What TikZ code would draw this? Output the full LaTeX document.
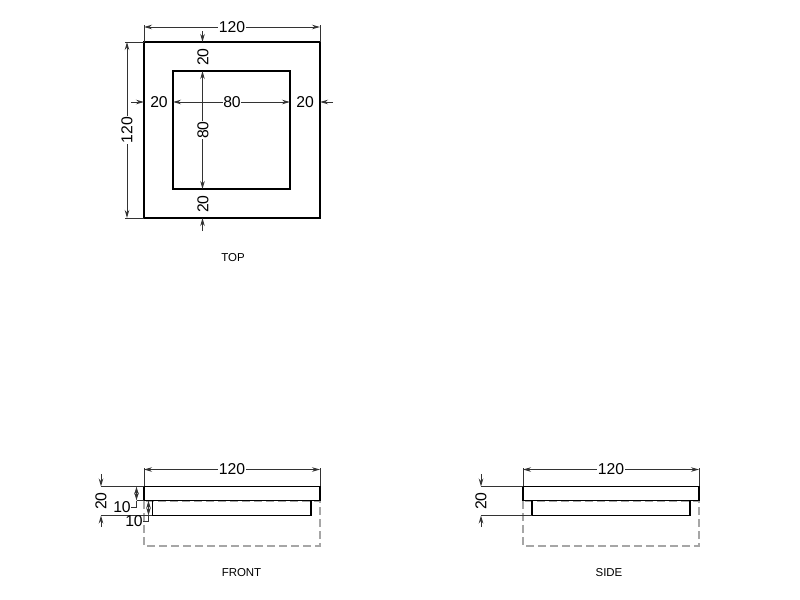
\documentclass[tikz,border=0pt]{standalone}
\usepackage{fontspec}
\setmainfont{Liberation Sans}
\usetikzlibrary{arrows.meta}
\tikzset{
  outline/.style={line width=1.3pt,black},
  hidden/.style={line width=0.8pt,black!35,dash pattern=on 6pt off 3pt},
  dimline/.style={line width=0.7pt,black!80},
  dimtip/.style={dimline,-{Stealth[length=6pt,width=3.4pt]}},
  dimboth/.style={dimline,{Stealth[length=6pt,width=3.4pt]}-{Stealth[length=6pt,width=3.4pt]}},
  dimtext/.style={font=\fontsize{11.8}{12}\selectfont,fill=white,inner sep=0.5pt},
  viewname/.style={font=\fontsize{8.6}{10}\selectfont},
}

\begin{document}
\begin{tikzpicture}[x=0.75pt,y=-0.75pt]
  \useasboundingbox (0,0) rectangle (800,600);

  % top view
  \draw[outline] (144,42) rectangle (320,218);
  \draw[outline] (173,71) rectangle (290,189);

  \draw[dimline] (144,42) -- (144,25);
  \draw[dimline] (320,42) -- (320,25);
  \draw[dimboth] (144,27) -- (320,27);
  \node[dimtext] (topwidth) at (232,27) {120};

  \draw[dimline] (144,42) -- (125,42);
  \draw[dimline] (144,218) -- (125,218);
  \draw[dimboth] (127,42) -- (127,218);
  \node[dimtext,rotate=90] (topheight) at (127,130) {120};

  \draw[dimboth] (173,102) -- (290,102);
  \node[dimtext] (innerwidth) at (232,102) {80};
  \draw[dimboth] (202.5,71) -- (202.5,189);
  \node[dimtext,rotate=90] (innerheight) at (203,130) {80};

  \draw[dimtip] (202.5,31) -- (202.5,42);
  \node[dimtext,rotate=90] (topmargin) at (203,57) {20};
  \draw[dimtip] (202.5,231) -- (202.5,218);
  \node[dimtext,rotate=90] (bottommargin) at (203,204) {20};
  \draw[dimtip] (131,102) -- (144,102);
  \node[dimtext] (leftmargin) at (159,102) {20};
  \draw[dimtip] (333,102) -- (320,102);
  \node[dimtext] (rightmargin) at (305,102) {20};

  \node[viewname] (topname) at (233,258) {TOP};

  % front view
  \draw[hidden] (144,501) rectangle (320,546);
  \draw[outline] (144,486.5) rectangle (320,500.5);
  \draw[outline] (152.5,500.5) rectangle (311,515.5);

  \draw[dimline] (144,486) -- (144,468);
  \draw[dimline] (320,486) -- (320,468);
  \draw[dimboth] (144,469.5) -- (320,469.5);
  \node[dimtext] (frontwidth) at (232,469.5) {120};

  \draw[dimline] (144,486.5) -- (101,486.5);
  \draw[dimline] (152,515.5) -- (101,515.5);
  \draw[dimtip] (101,474) -- (101,486.5);
  \draw[dimtip] (101,527) -- (101,515.5);
  \node[dimtext,rotate=90] (frontheight) at (101,501) {20};

  \draw[dimline] (144,500.5) -- (136.5,500.5);
  \draw[dimboth] (136.5,486.5) -- (136.5,500.5);
  \draw[dimline] (136.5,500.5) -- (136.5,507) -- (131,507);
  \node[dimtext,fill=none] (flange) at (122,507) {10};

  \draw[dimboth] (148.5,500.5) -- (148.5,515.5);
  \draw[dimline] (148.5,515.5) -- (148.5,521.5) -- (143,521.5);
  \node[dimtext,fill=none] (step) at (134,521.5) {10};

  \node[viewname] (frontname) at (241.5,572.5) {FRONT};

  % side view
  \draw[hidden] (523,501) rectangle (699,546);
  \draw[outline] (523,486.5) rectangle (699,500.5);
  \draw[outline] (532,500.5) rectangle (690,515.5);

  \draw[dimline] (523,486) -- (523,468);
  \draw[dimline] (699,486) -- (699,468);
  \draw[dimboth] (523,469.5) -- (699,469.5);
  \node[dimtext] (sidewidth) at (611,469.5) {120};

  \draw[dimline] (523,486.5) -- (481,486.5);
  \draw[dimline] (532,515.5) -- (481,515.5);
  \draw[dimtip] (481,474) -- (481,486.5);
  \draw[dimtip] (481,527) -- (481,515.5);
  \node[dimtext,rotate=90] (sideheight) at (481,501) {20};

  \node[viewname] (sidename) at (609,572.5) {SIDE};
\end{tikzpicture}
\end{document}
